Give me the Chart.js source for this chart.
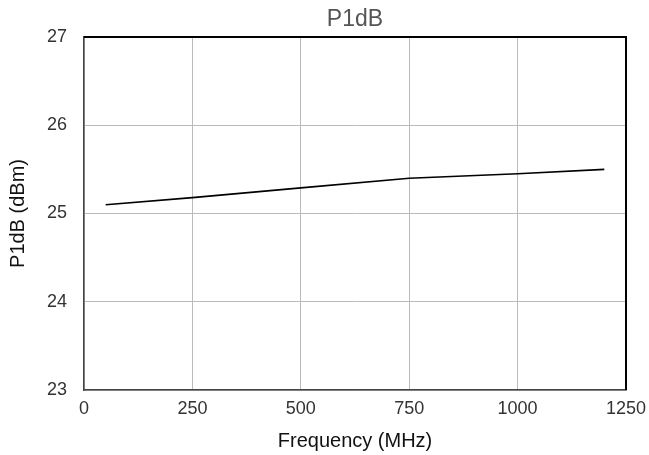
<!DOCTYPE html>
<html>
<head>
    <meta charset="utf-8">
    <title>P1dB</title>
    <script src="https://cdn.jsdelivr.net/npm/chart.js@4.4.0/dist/chart.umd.min.js"></script>
    <style>
        body { margin: 0; background: #fff; }
        #wrap { width: 649px; height: 455px; }
    </style>
</head>
<body>
    <div id="wrap"><canvas id="myChart" width="649" height="455"></canvas></div>
    <script>
        // data
        const freqMHz = [50, 250, 500, 750, 1000, 1200];
        const p1dB = [25.1, 25.18, 25.29, 25.4, 25.45, 25.5];
        const xTicks = [0, 250, 500, 750, 1000, 1250];
        const yTicks = [23, 24, 25, 26, 27];

        const points = freqMHz.map((f, i) => ({ x: f, y: p1dB[i] }));
        const font = "'Liberation Sans', Arial, Helvetica, sans-serif";
        Chart.defaults.font.family = font;

        // title centred over the plot, plus top and right frame lines
        const frame = {
            id: 'frame',
            afterDraw(chart) {
                const a = chart.chartArea, ctx = chart.ctx;
                ctx.save();
                ctx.strokeStyle = '#000';
                ctx.lineWidth = 2;
                ctx.beginPath();
                ctx.moveTo(a.left, a.top);
                ctx.lineTo(a.right, a.top);
                ctx.lineTo(a.right, a.bottom);
                ctx.stroke();

                ctx.fillStyle = '#555';
                ctx.font = "23px " + font;
                ctx.textAlign = 'center';
                ctx.textBaseline = 'middle';
                ctx.fillText('P1dB', (a.left + a.right) / 2, 20);
                ctx.restore();
            }
        };

        new Chart(document.getElementById('myChart'), {
            type: 'line',
            data: {
                datasets: [{
                    data: points,
                    borderColor: '#000',
                    borderWidth: 1.6,
                    pointRadius: 0,
                    tension: 0,
                    fill: false
                }]
            },
            options: {
                responsive: false,
                animation: false,
                layout: { padding: { left: 0, right: 23, top: 37, bottom: 0 } },
                plugins: {
                    legend: { display: false },
                    tooltip: { enabled: false },
                    title: { display: false }
                },
                scales: {
                    x: {
                        type: 'linear',
                        min: 0,
                        max: 1250,
                        afterBuildTicks(s) { s.ticks = xTicks.map(v => ({ value: v })); },
                        afterFit(s) { s.height = 65; s.paddingLeft = 0; s.paddingRight = 0; },
                        ticks: {
                            color: '#333',
                            font: { size: 18 },
                            padding: 8,
                            callback: v => String(v)
                        },
                        grid: { color: '#bbb', lineWidth: 1, drawTicks: false },
                        border: { color: '#444', width: 1.5 },
                        title: {
                            display: true,
                            text: 'Frequency (MHz)',
                            color: '#111',
                            font: { size: 20 },
                            padding: { top: 4, bottom: 2 }
                        }
                    },
                    y: {
                        min: 23,
                        max: 27,
                        afterBuildTicks(s) { s.ticks = yTicks.map(v => ({ value: v })); },
                        afterFit(s) { s.width = 84; s.paddingTop = 0; s.paddingBottom = 0; },
                        ticks: {
                            color: '#333',
                            font: { size: 18 },
                            padding: 17,
                            callback: v => String(v)
                        },
                        grid: { color: '#bbb', lineWidth: 1, drawTicks: false },
                        border: { color: '#444', width: 1.5 },
                        title: {
                            display: true,
                            text: 'P1dB (dBm)',
                            color: '#111',
                            font: { size: 20 },
                            padding: { top: 6, bottom: 0 }
                        }
                    }
                }
            },
            plugins: [frame]
        });
    </script>
</body>
</html>
